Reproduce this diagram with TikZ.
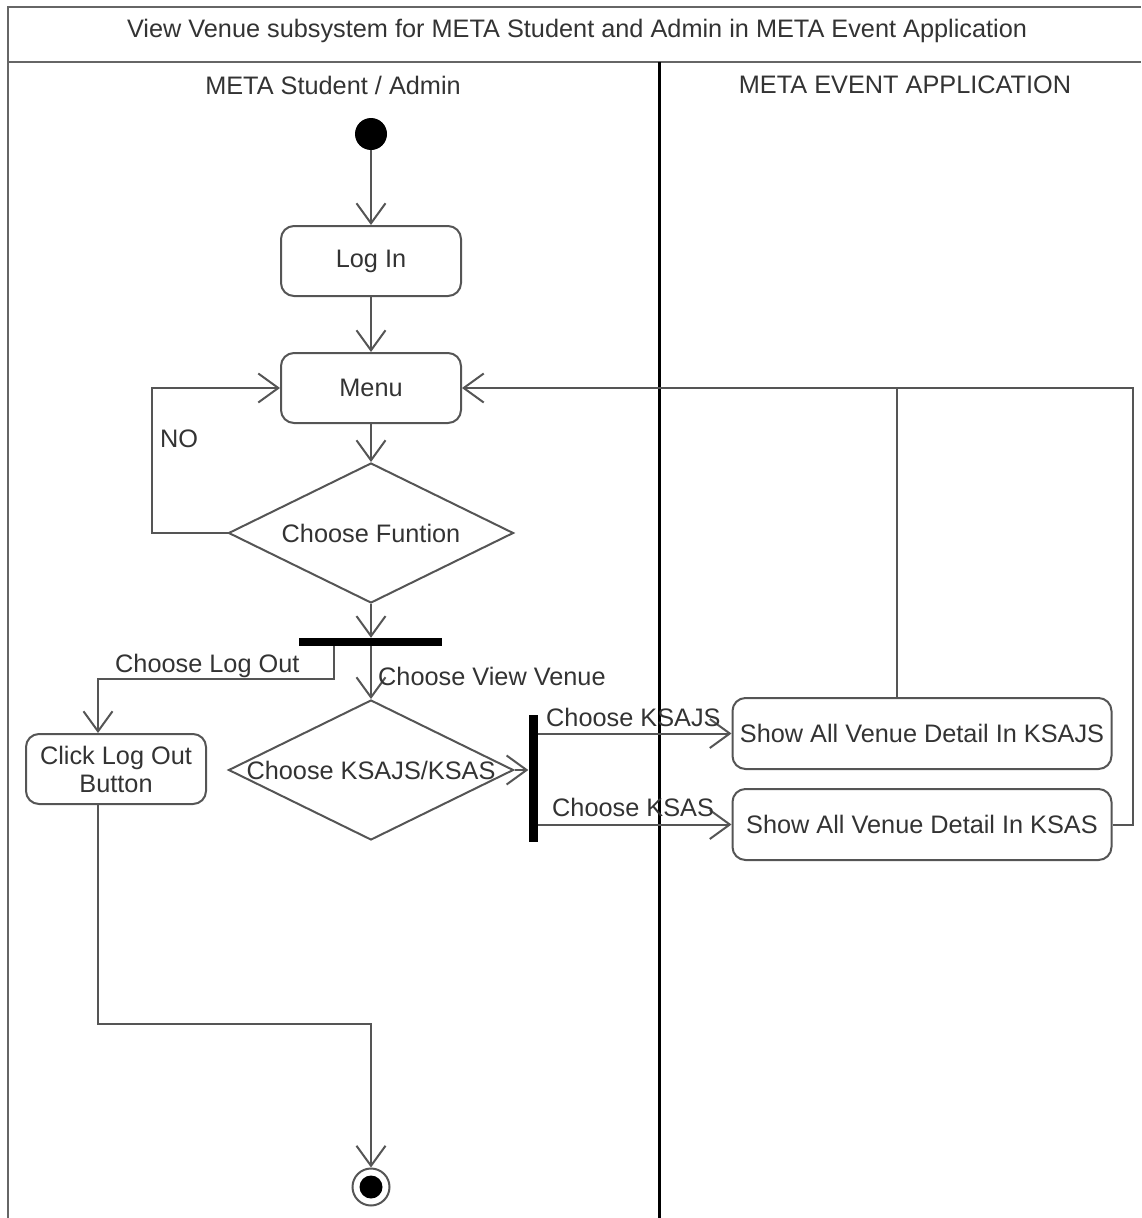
\documentclass[tikz,border=0pt]{standalone}
\usepackage{fontspec}
\setmainfont{Liberation Sans}
\usetikzlibrary{arrows.meta,shapes.geometric}
\definecolor{linegray}{HTML}{555555}
\definecolor{framegray}{HTML}{666666}
\definecolor{textgray}{HTML}{333333}
\begin{document}
\begin{tikzpicture}[x=1pt,y=-1pt,
  every node/.style={font=\fontsize{25.3}{29}\selectfont, text=textgray},
  line/.style={draw=linegray, line width=2pt},
  arr/.style={line, -{Straight Barb[length=20pt,width=29pt]}},
  act/.style={line, rounded corners=13pt, minimum width=180pt, minimum height=70pt, inner sep=0pt},
  dec/.style={line, diamond, minimum width=285pt, minimum height=140pt, inner sep=0pt},
  barnode/.style={fill=black, inner sep=0pt, draw=none},
  lab/.style={inner sep=0pt},
  frame/.style={draw=framegray, line width=2.5pt},
]
\useasboundingbox (0,0) rectangle (1141,1218);
% frame
\draw[frame] (8,1218) -- (8,7) -- (1141,7);
\draw[frame] (8,62) -- (1141,62);
\draw[draw=black, line width=3pt] (659,62) -- (659,1218);
\node[lab] (title) at (577,31) {View Venue subsystem for META Student and Admin in META Event Application};
\node[lab] (laneA) at (333,85) {META Student / Admin};
\node[lab] (laneB) at (905,85) {META EVENT APPLICATION};

% nodes
\node[circle, fill=black, minimum size=32pt, inner sep=0pt] (init) at (371,134) {};
\node[act] (login) at (371,261) {Log In};
\node[act] (menu) at (371,388) {Menu};
\node[dec] (d1) at (371,533) {};
\node[lab] (d1t) at (d1) {Choose Funtion};
\node[barnode, minimum width=143pt, minimum height=8pt] (bar1) at (370,642) {};
\node[dec] (d2) at (371,770) {};
\node[lab] (d2t) at (d2) {Choose KSAJS/KSAS};
\node[act, align=center, font=\fontsize{25.3}{28}\selectfont] (click) at (116,769) {Click Log Out\\Button};
\node[barnode, minimum width=9pt, minimum height=127pt] (bar2) at (533,778) {};
\node[act, minimum width=379pt, minimum height=71pt] (s1) at (922,733.5) {Show All Venue Detail In KSAJS};
\node[act, minimum width=379pt, minimum height=71pt] (s2) at (922,824.5) {Show All Venue Detail In KSAS};
\node[circle, draw=linegray, line width=2pt, minimum size=37pt, inner sep=0pt] (final) at (371,1187) {};
\node[circle, fill=black, minimum size=23pt, inner sep=0pt] (finalin) at (final) {};

\coordinate (noL) at (152,388);
\coordinate (loR) at (1133,388);
\coordinate (up) at (897,388);

% connectors
\draw[arr] (init) -- (login);
\draw[arr] (login) -- (menu);
\draw[arr] (menu) -- (d1);
\draw[arr] (d1.south) -- (d1.south |- bar1.north);
\draw[arr] (d1.west) -| (noL) -- (menu.west);
\node[lab, anchor=west] (no) at (160,439) {NO};
\draw[arr] ([xshift=-36pt]bar1.south) |- (98,679) -- ([xshift=-18pt]click.north);
\node[lab, anchor=base west] (lout) at (115,672) {Choose Log Out};
\draw[arr] (bar1.south -| d2.north) -- (d2.north);
\node[lab, anchor=base west] (lview) at (378,685) {Choose View Venue};
\draw[arr] (d2.east) -- (d2.east -| bar2.west);
\draw[arr] (s1.west -| bar2.east) -- (s1.west);
\node[lab, anchor=base west] (lk1) at (546,726) {Choose KSAJS};
\draw[arr] (s2.west -| bar2.east) -- (s2.west);
\node[lab, anchor=base west] (lk2) at (552,816) {Choose KSAS};
\draw[arr] (s1.north -| up) -- (up) -- (menu.east);
\draw[line] (s2.east) -| (loR) -- (up);
\draw[arr] ([xshift=-18pt]click.south) |- (371,1024) -- (final.north);
\end{tikzpicture}
\end{document}
